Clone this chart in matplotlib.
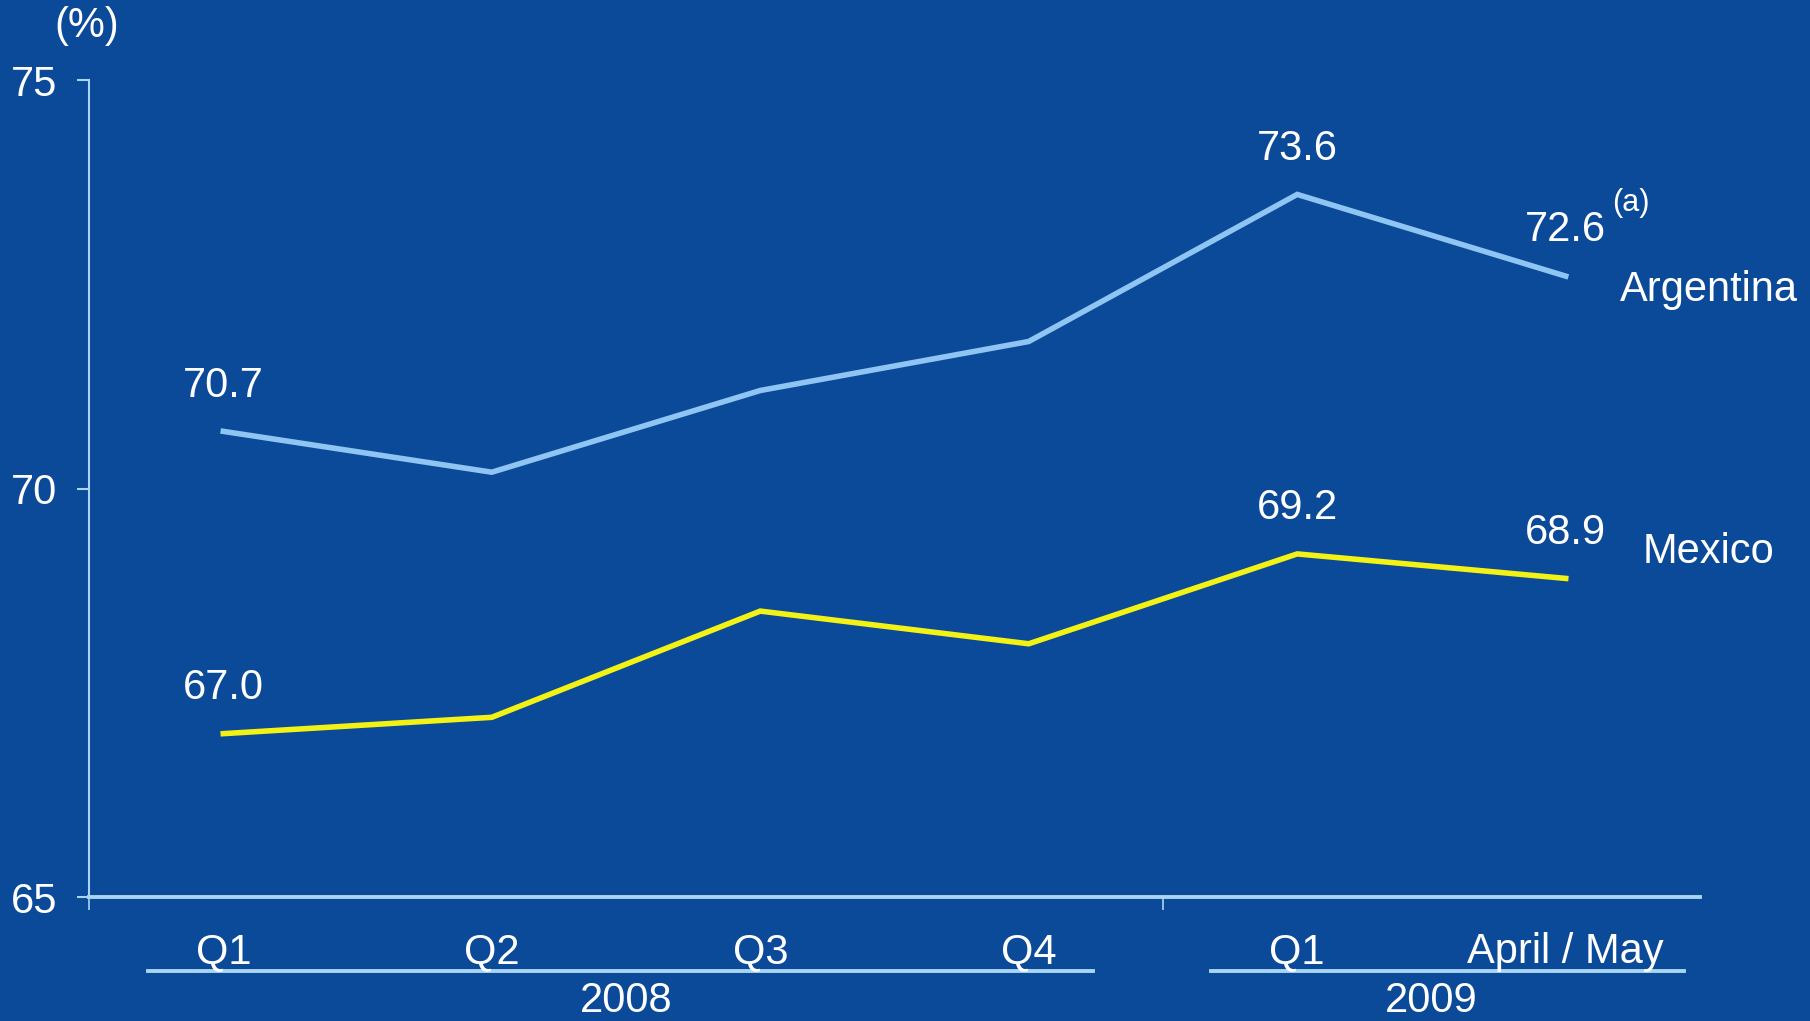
import matplotlib.pyplot as plt
import matplotlib.transforms as mtransforms

plt.rcParams['font.family'] = ['Liberation Sans', 'DejaVu Sans']

# datos
periods = ["Q1", "Q2", "Q3", "Q4", "Q1", "April / May"]
years = ["2008", "2009"]
argentina = [70.7, 70.2, 71.2, 71.8, 73.6, 72.6]
mexico = [67.0, 67.2, 68.5, 68.1, 69.2, 68.9]
labelled = [0, 4, 5]  # puntos con valor escrito

bg = "#0b4999"
c_arg = "#8fc5f2"
c_mex = "#f2f215"
c_axis = "#a9d5f0"
fs = 30

fig = plt.figure(figsize=(18.1, 10.21), dpi=100, facecolor=bg)
ax = fig.add_axes([0.0492, 0.1214, 0.8900, 0.8002], facecolor=bg)

x = list(range(len(periods)))
ax.plot(x, argentina, color=c_arg, lw=4, solid_joinstyle='miter')
ax.plot(x, mexico, color=c_mex, lw=4, solid_joinstyle='miter')

for i in labelled:
    ax.annotate(f"{argentina[i]:.1f}", (x[i], argentina[i]), xytext=(0, 33),
                textcoords='offset points', ha='center', va='center',
                color='white', fontsize=fs)
    ax.annotate(f"{mexico[i]:.1f}", (x[i], mexico[i]), xytext=(0, 33),
                textcoords='offset points', ha='center', va='center',
                color='white', fontsize=fs)

ax.annotate("(a)", (x[-1], argentina[-1]), xytext=(47, 53),
            textcoords='offset points', ha='center', va='center',
            color='white', fontsize=22)
ax.annotate("Argentina", (x[-1], argentina[-1]), xytext=(103, -10),
            textcoords='offset points', ha='center', va='center',
            color='white', fontsize=fs, annotation_clip=False)
ax.annotate("Mexico", (x[-1], mexico[-1]), xytext=(103, 19),
            textcoords='offset points', ha='center', va='center',
            color='white', fontsize=fs, annotation_clip=False)

ax.set_xlim(-0.5, 5.5)
ax.set_ylim(65, 75)
ax.set_yticks([65, 70, 75])
ax.tick_params(axis='y', colors=c_axis, labelcolor='white', labelsize=fs,
               length=9, width=1.5, pad=14)
ax.set_xticks([-0.5, 3.5])
ax.set_xticklabels([])
ax.tick_params(axis='x', colors=c_axis, length=9, width=1.2)

for s in ['top', 'right']:
    ax.spines[s].set_visible(False)
ax.spines['left'].set_color(c_axis)
ax.spines['left'].set_linewidth(1.5)
ax.spines['bottom'].set_color(c_axis)
ax.spines['bottom'].set_linewidth(2.8)

# etiquetas de periodo y de año debajo del eje
trans = mtransforms.blended_transform_factory(ax.transData, ax.transAxes)
for xi, p in zip(x, periods):
    ax.text(xi, -0.0673, p, transform=trans, ha='center', va='center',
            color='white', fontsize=fs, clip_on=False)

ax.plot([-0.28, 3.24], [-0.0906, -0.0906], transform=trans, color=c_axis,
        lw=2.8, clip_on=False)
ax.plot([3.68, 5.44], [-0.0906, -0.0906], transform=trans, color=c_axis,
        lw=2.8, clip_on=False)
ax.text(1.5, -0.127, years[0], transform=trans, ha='center', va='center',
        color='white', fontsize=fs, clip_on=False)
ax.text(4.5, -0.127, years[1], transform=trans, ha='center', va='center',
        color='white', fontsize=fs, clip_on=False)

fig.text(87 / 1810, 1 - 26 / 1021, "(%)", ha='center', va='center',
         color='white', fontsize=fs)

fig.savefig("out.png", dpi=100, facecolor=bg)
